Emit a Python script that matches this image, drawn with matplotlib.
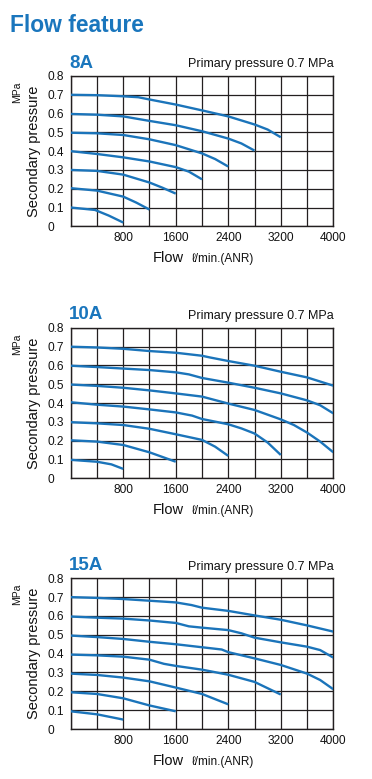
import numpy as np
import matplotlib
matplotlib.use("Agg")
import matplotlib.pyplot as plt

plt.rcParams['font.family'] = ['Liberation Sans', 'DejaVu Sans']

# ---------------- data ----------------
panel_names = ["8A", "10A", "15A"]
x_ticks = [0, 400, 800, 1200, 1600, 2000, 2400, 2800, 3200, 3600, 4000]
x_ticklabels = ["", "", "800", "", "1600", "", "2400", "", "3200", "", "4000"]
y_ticks = [0, 0.1, 0.2, 0.3, 0.4, 0.5, 0.6, 0.7, 0.8]
y_ticklabels = ["0", "0.1", "0.2", "0.3", "0.4", "0.5", "0.6", "0.7", "0.8"]

# 8A
f8_07 = [0, 400, 800, 1030, 1200, 1600, 2000, 2400, 2800, 3000, 3200]
p8_07 = [0.700, 0.698, 0.692, 0.687, 0.675, 0.648, 0.617, 0.585, 0.542, 0.515, 0.474]
f8_06 = [0, 400, 800, 1200, 1600, 2000, 2400, 2600, 2800]
p8_06 = [0.598, 0.594, 0.585, 0.561, 0.538, 0.506, 0.467, 0.441, 0.403]
f8_05 = [0, 400, 800, 1200, 1600, 2000, 2200, 2400]
p8_05 = [0.498, 0.495, 0.486, 0.463, 0.432, 0.388, 0.358, 0.318]
f8_04 = [0, 400, 800, 1200, 1600, 1800, 2000]
p8_04 = [0.400, 0.385, 0.367, 0.345, 0.315, 0.291, 0.250]
f8_03 = [0, 400, 800, 1200, 1400, 1600]
p8_03 = [0.300, 0.295, 0.275, 0.233, 0.205, 0.174]
f8_02 = [0, 400, 800, 1000, 1200]
p8_02 = [0.203, 0.190, 0.158, 0.126, 0.089]
f8_01 = [0, 370, 580, 800]
p8_01 = [0.100, 0.087, 0.057, 0.020]

# 10A
f10_07 = [0, 400, 800, 1200, 1600, 2000, 2120, 2400, 2800, 3200, 3600, 4000]
p10_07 = [0.699, 0.695, 0.688, 0.676, 0.667, 0.651, 0.642, 0.623, 0.598, 0.566, 0.536, 0.492]
f10_06 = [0, 400, 800, 1200, 1600, 1800, 2000, 2400, 2800, 3200, 3600, 3800, 4000]
p10_06 = [0.598, 0.591, 0.583, 0.575, 0.563, 0.552, 0.533, 0.508, 0.481, 0.451, 0.414, 0.388, 0.345]
f10_05 = [0, 400, 800, 1200, 1600, 2000, 2400, 2800, 3200, 3400, 3600, 3800, 4000]
p10_05 = [0.498, 0.491, 0.481, 0.467, 0.451, 0.434, 0.397, 0.363, 0.313, 0.283, 0.243, 0.195, 0.138]
f10_04 = [0, 400, 800, 1200, 1600, 1850, 2000, 2400, 2600, 2800, 3000, 3200]
p10_04 = [0.404, 0.391, 0.381, 0.366, 0.350, 0.333, 0.315, 0.287, 0.265, 0.238, 0.190, 0.124]
f10_03 = [0, 400, 800, 1200, 1600, 2000, 2200, 2400]
p10_03 = [0.298, 0.292, 0.283, 0.263, 0.234, 0.204, 0.168, 0.119]
f10_02 = [0, 400, 800, 1200, 1600]
p10_02 = [0.202, 0.195, 0.177, 0.138, 0.088]
f10_01 = [0, 400, 620, 800]
p10_01 = [0.098, 0.088, 0.074, 0.050]

# 15A
f15_07 = [0, 400, 800, 1200, 1600, 1840, 2000, 2400, 2800, 3200, 3600, 4000]
p15_07 = [0.700, 0.696, 0.690, 0.681, 0.672, 0.658, 0.644, 0.627, 0.603, 0.580, 0.550, 0.517]
f15_06 = [0, 400, 800, 1200, 1600, 1800, 2000, 2400, 2600, 2800, 3200, 3600, 3800, 4000]
p15_06 = [0.597, 0.591, 0.586, 0.576, 0.563, 0.545, 0.538, 0.525, 0.508, 0.485, 0.460, 0.437, 0.419, 0.379]
f15_05 = [0, 400, 800, 1200, 1600, 2000, 2300, 2400, 2800, 3200, 3600, 3800, 4000]
p15_05 = [0.496, 0.488, 0.478, 0.463, 0.450, 0.434, 0.422, 0.408, 0.375, 0.340, 0.294, 0.260, 0.211]
f15_04 = [0, 400, 800, 1200, 1420, 1600, 2000, 2400, 2800, 3200]
p15_04 = [0.395, 0.391, 0.384, 0.368, 0.346, 0.335, 0.315, 0.288, 0.250, 0.183]
f15_03 = [0, 400, 800, 1200, 1600, 2000, 2400]
p15_03 = [0.294, 0.287, 0.273, 0.253, 0.220, 0.186, 0.131]
f15_02 = [0, 400, 800, 1200, 1600]
p15_02 = [0.195, 0.186, 0.163, 0.125, 0.094]
f15_01 = [0, 400, 800]
p15_01 = [0.094, 0.078, 0.050]

curves = {
    "8A": [(f8_07, p8_07), (f8_06, p8_06), (f8_05, p8_05), (f8_04, p8_04),
           (f8_03, p8_03), (f8_02, p8_02), (f8_01, p8_01)],
    "10A": [(f10_07, p10_07), (f10_06, p10_06), (f10_05, p10_05), (f10_04, p10_04),
            (f10_03, p10_03), (f10_02, p10_02), (f10_01, p10_01)],
    "15A": [(f15_07, p15_07), (f15_06, p15_06), (f15_05, p15_05), (f15_04, p15_04),
            (f15_03, p15_03), (f15_02, p15_02), (f15_01, p15_01)],
}

# ---------------- style ----------------
W, H = 372, 779
BLUE_TXT = "#1a76bd"
BLUE_LINE = "#1b74ba"
GRID = "#231f20"

fig = plt.figure(figsize=(W / 100, H / 100), dpi=100)
fig.patch.set_facecolor("white")


def ftext(x, y, s, **kw):
    return fig.text(x / W, 1 - y / H, s, **kw)


ftext(10, 31.5, "Flow feature", fontsize=16.4, fontweight="bold", color=BLUE_TXT,
      ha="left", va="baseline")

boxes = [(70.7, 76.0, 333.3, 226.3), (70.7, 327.7, 333.3, 478.3), (70.7, 578.3, 333.3, 729.0)]

for name, (l, t, r, b) in zip(panel_names, boxes):
    ax = fig.add_axes([l / W, 1 - b / H, (r - l) / W, (b - t) / H])
    ax.set_xlim(0, 4000)
    ax.set_ylim(0, 0.8)
    ax.set_axisbelow(True)
    ax.set_xticks(x_ticks)
    ax.set_xticklabels(x_ticklabels, fontsize=8.6, color="#111111")
    ax.set_yticks(y_ticks)
    ax.set_yticklabels(y_ticklabels, fontsize=8.6, color="#111111")
    for lbl in ax.get_yticklabels():
        lbl.set_horizontalalignment("left")
    ax.tick_params(axis="x", length=0, pad=4.3)
    ax.tick_params(axis="y", length=0, pad=17)
    ax.grid(True, color=GRID, linewidth=0.9)
    for sp in ax.spines.values():
        sp.set_color(GRID)
        sp.set_linewidth(1.0)
    for fx, py in curves[name]:
        ax.plot(fx, py, color=BLUE_LINE, linewidth=1.7, solid_capstyle="butt",
                solid_joinstyle="round", zorder=3)

    # headers
    ftext(69, t - 8.5, name, fontsize=13.5, fontweight="bold", color=BLUE_TXT,
          ha="left", va="baseline")
    ftext(r, t - 8.5, "Primary pressure 0.7 MPa", fontsize=9, color="#111111",
          ha="right", va="baseline")
    # y labels
    ftext(34, (t + b) / 2, "Secondary pressure", fontsize=10.5, rotation=90,
          ha="center", va="center", color="#111111")
    ftext(17, t + 16.5, "MPa", fontsize=7.5, rotation=90, ha="center", va="center",
          color="#111111")
    # x label
    ftext(153, b + 36, "Flow", fontsize=10.5, ha="left", va="baseline", color="#111111")
    ftext(192, b + 36, "\u2113/min.(ANR)", fontsize=8.5, ha="left", va="baseline",
          color="#111111")

fig.savefig("out.png", dpi=100, facecolor="white")
